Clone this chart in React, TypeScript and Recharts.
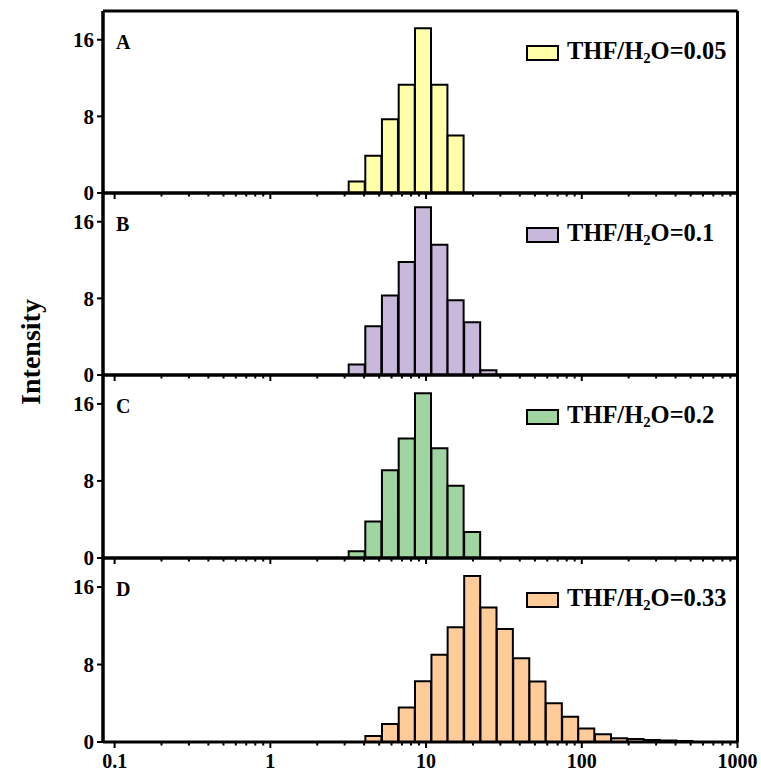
import React from 'react';
import { ComposedChart, Bar, XAxis, YAxis, ReferenceLine, Legend } from 'recharts';

// bin centres (nm), log-spaced
const sizes = [3.59, 4.59, 5.87, 7.52, 9.57, 12.2, 15.5, 19.8, 25.2, 32.1, 40.9, 52.0, 66.2, 84.3, 107, 137, 174, 222, 282, 360, 457];

const countsA = [1.2, 3.9, 7.7, 11.3, 17.2, 11.3, 6.0];
const countsB = [1.1, 5.1, 8.3, 11.8, 17.5, 13.6, 7.8, 5.5, 0.5];
const countsC = [0.7, 3.8, 9.1, 12.4, 17.1, 11.4, 7.5, 2.7];
// D starts one bin later (4.59)
const countsD = [null, 0.63, 1.85, 3.56, 6.28, 9.0, 11.86, 17.15, 13.88, 11.68, 8.65, 6.24, 4.0, 2.6, 1.4, 0.8, 0.4, 0.3, 0.2, 0.15, 0.1];

const xMajor = [0.1, 1, 10, 100, 1000];
const xTicks = [
  0.1, 0.2, 0.3, 0.4, 0.5, 0.6, 0.7, 0.8, 0.9,
  1, 2, 3, 4, 5, 6, 7, 8, 9,
  10, 20, 30, 40, 50, 60, 70, 80, 90,
  100, 200, 300, 400, 500, 600, 700, 800, 900,
  1000,
];
const yTicks = [0, 8, 16];

const X_MIN = 0.0842;
const X_MAX = 1000;
const Y_MAX = 19;

const FONT = '"Liberation Serif", "Times New Roman", serif';

const panels = [
  { letter: 'A', ratio: '0.05', counts: countsA, fill: '#FFFFAA', top: 11, bottom: 193 },
  { letter: 'B', ratio: '0.1', counts: countsB, fill: '#C8B8DC', top: 193, bottom: 375 },
  { letter: 'C', ratio: '0.2', counts: countsC, fill: '#A0D4A0', top: 375, bottom: 558 },
  { letter: 'D', ratio: '0.33', counts: countsD, fill: '#FFCC99', top: 558, bottom: 742 },
];

const XTick = (props: any) => {
  const { x, y, payload, showLabel } = props;
  const major = xMajor.includes(payload.value);
  return (
    <g>
      <line x1={x} x2={x} y1={y} y2={y + (major ? 6 : 3.5)} stroke="#000" strokeWidth={2} />
      {showLabel && major && (
        <text x={x} y={y + 26} textAnchor="middle" fill="#000" fontSize={20} fontWeight="bold" fontFamily={FONT}>
          {payload.value}
        </text>
      )}
    </g>
  );
};

const YTick = (props: any) => {
  const { x, y, payload } = props;
  return (
    <g>
      <line x1={x - 6} x2={x + 1} y1={y} y2={y} stroke="#000" strokeWidth={2} />
      <text x={x - 9} y={y} dy="0.35em" textAnchor="end" fill="#000" fontSize={21} fontWeight="bold" fontFamily={FONT}>
        {payload.value}
      </text>
    </g>
  );
};

const LegendBox = ({ fill, ratio }: { fill: string; ratio: string }) => (
  <div style={{ display: 'flex', alignItems: 'center', fontFamily: FONT, fontWeight: 'bold', fontSize: 24.5, lineHeight: 1, color: '#000' }}>
    <span style={{ display: 'inline-block', width: 29, height: 12, border: '2px solid #000', background: fill, marginRight: 8 }} />
    <span style={{ whiteSpace: 'nowrap' }}>
      THF/H<sub style={{ fontSize: '0.6em', verticalAlign: '-0.3em' }}>2</sub>O={ratio}
    </span>
  </div>
);

function Panel({ p, last }: { p: any; last: boolean }) {
  const data = sizes
    .map((d, i) => ({ d, v: p.counts[i] }))
    .filter((r) => r.v !== null && r.v !== undefined);
  const mt = 2;
  const xh = last ? 34 : 12;
  const h = p.bottom - p.top;
  return (
    <div style={{ position: 'absolute', left: 0, top: p.top - mt }}>
      <ComposedChart
        width={761}
        height={h + mt + xh}
        data={data}
        margin={{ top: mt, right: 23.5, bottom: 0, left: 63 }}
        barCategoryGap={0}
        barGap={0}
      >
        <XAxis
          dataKey="d"
          type="number"
          scale="log"
          domain={[X_MIN, X_MAX]}
          allowDataOverflow
          ticks={xTicks}
          interval={0}
          tickSize={0}
          tickMargin={0}
          height={xh}
          axisLine={false}
          tickLine={false}
          tick={<XTick showLabel={last} />}
        />
        <YAxis
          type="number"
          domain={[0, Y_MAX]}
          ticks={yTicks}
          interval={0}
          width={40}
          tickSize={0}
          tickMargin={0}
          axisLine={{ stroke: '#000', strokeWidth: 3 }}
          tickLine={false}
          tick={<YTick />}
        />
        <Bar dataKey="v" fill={p.fill} stroke="#000" strokeWidth={2} isAnimationActive={false} />
        <ReferenceLine y={0} stroke="#000" strokeWidth={3} />
        <ReferenceLine y={Y_MAX} stroke="#000" strokeWidth={3} />
        <ReferenceLine x={X_MIN} stroke="#000" strokeWidth={3} ifOverflow="visible" />
        <ReferenceLine x={X_MAX} stroke="#000" strokeWidth={3} />
        <Legend
          layout="horizontal"
          verticalAlign="middle"
          align="center"
          wrapperStyle={{ top: mt + 28, left: 526, width: 235, height: 20 }}
          content={() => <LegendBox fill={p.fill} ratio={p.ratio} />}
        />
      </ComposedChart>
      <div
        style={{
          position: 'absolute',
          left: 116,
          top: mt + 21,
          fontFamily: FONT,
          fontWeight: 'bold',
          fontSize: 20,
          lineHeight: '20px',
          color: '#000',
        }}
      >
        {p.letter}
      </div>
    </div>
  );
}

export default function App() {
  return (
    <div style={{ position: 'absolute', left: 0, top: 0, width: 761, height: 776, background: '#fff' }}>
      {panels.map((p, i) => (
        <Panel key={p.letter} p={p} last={i === panels.length - 1} />
      ))}
      <div
        style={{
          position: 'absolute',
          left: 31,
          top: 352,
          transform: 'translate(-50%, -50%) rotate(-90deg)',
          fontFamily: FONT,
          fontWeight: 'bold',
          fontSize: 28,
          lineHeight: 1,
          whiteSpace: 'nowrap',
          color: '#000',
        }}
      >
        Intensity
      </div>
    </div>
  );
}
